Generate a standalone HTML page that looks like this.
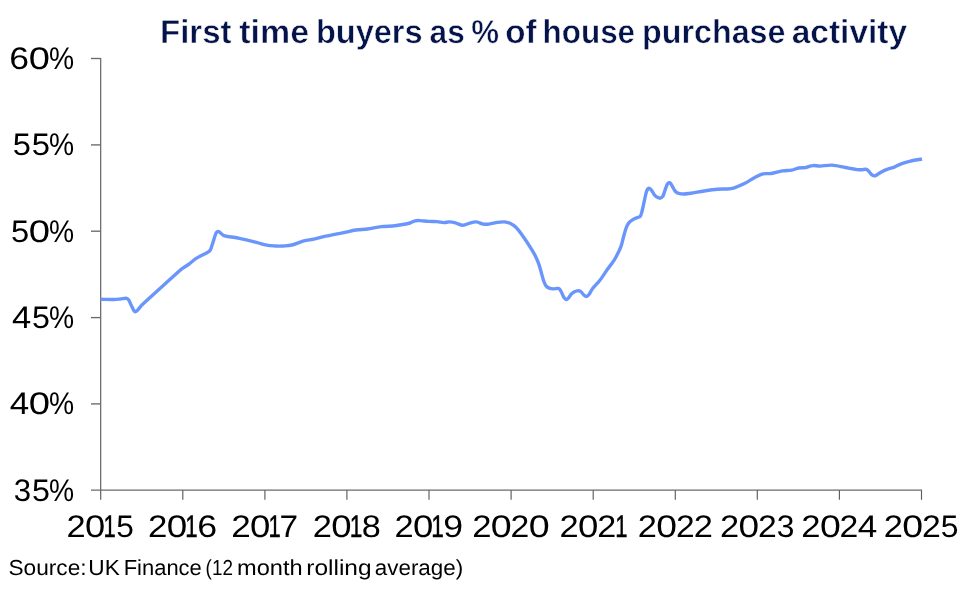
<!DOCTYPE html>
<html lang="en"><head><meta charset="utf-8"><title>First time buyers as % of house purchase activity</title>
<style>html,body{margin:0;padding:0;background:#fff}body{width:966px;height:589px;overflow:hidden}svg{display:block}text{font-family:"Liberation Sans",sans-serif;text-rendering:geometricPrecision}</style></head><body>
<svg width="966" height="589" viewBox="0 0 966 589">
<rect width="966" height="589" fill="#fff"/>
<g stroke="#5c5c5c" stroke-width="1.15" fill="none">
<path d="M100.7 57.9V499.8"/>
<path d="M182.8 490.1V499.8"/>
<path d="M264.9 490.1V499.8"/>
<path d="M346.9 490.1V499.8"/>
<path d="M429.0 490.1V499.8"/>
<path d="M511.1 490.1V499.8"/>
<path d="M593.2 490.1V499.8"/>
<path d="M675.3 490.1V499.8"/>
<path d="M757.3 490.1V499.8"/>
<path d="M839.4 490.1V499.8"/>
<path d="M921.5 490.1V499.8"/>
</g>
<g stroke="#6a6a6a" stroke-width="1.35" fill="none">
<path d="M91.0 490.1H922.1"/>
<path d="M91 58.5H100.7"/>
<path d="M91 144.9H100.7"/>
<path d="M91 231.2H100.7"/>
<path d="M91 317.6H100.7"/>
<path d="M91 403.9H100.7"/>
</g>
<path d="M100.4 299.3C102.6 299.3 110.2 299.6 113.5 299.5C116.8 299.4 118.1 299.2 120.2 299.0C122.3 298.8 124.7 298.2 126.1 298.3C127.5 298.4 127.8 298.7 128.6 299.8C129.4 300.9 130.2 303.1 131.1 304.9C132.0 306.7 133.2 309.7 134.0 310.8C134.8 311.9 135.0 311.8 135.7 311.6C136.3 311.5 137.0 310.9 137.9 309.9C138.8 308.9 139.9 307.0 141.2 305.7C142.4 304.4 141.9 305.0 145.4 301.8C148.9 298.6 156.6 291.5 162.2 286.4C167.8 281.3 175.5 274.4 179.0 271.3C182.5 268.2 181.5 269.1 183.2 267.9C184.9 266.7 187.0 265.5 189.1 264.0C191.2 262.5 193.6 260.2 195.8 258.7C198.1 257.2 200.5 256.1 202.6 255.0C204.7 253.9 207.1 252.8 208.4 251.9C209.7 251.0 209.9 250.8 210.6 249.4C211.3 248.0 211.9 245.6 212.6 243.5C213.3 241.4 214.1 238.6 214.7 236.8C215.3 235.0 215.8 233.5 216.3 232.6C216.9 231.7 217.3 231.4 218.0 231.4C218.7 231.4 219.3 231.9 220.2 232.6C221.1 233.3 222.3 234.8 223.6 235.5C224.9 236.2 225.4 236.1 227.8 236.5C230.2 236.9 234.8 237.4 237.9 238.0C241.0 238.6 243.1 239.0 246.3 239.8C249.5 240.6 253.9 241.7 257.3 242.6C260.7 243.5 263.8 244.5 266.8 245.1C269.8 245.7 272.4 245.8 275.2 246.0C278.0 246.2 280.8 246.2 283.6 246.0C286.4 245.8 288.6 245.8 292.0 245.0C295.4 244.2 300.2 241.9 303.8 240.9C307.4 239.9 310.3 239.9 313.9 239.1C317.5 238.3 320.9 237.2 325.6 236.2C330.4 235.2 337.3 233.9 342.4 232.9C347.4 231.9 351.7 230.7 355.9 230.0C360.1 229.3 363.4 229.6 367.6 229.0C371.8 228.4 376.9 227.1 381.1 226.6C385.3 226.1 389.3 226.3 392.9 226.0C396.5 225.7 400.0 225.0 402.9 224.5C405.8 224.0 408.0 223.6 410.0 223.0C412.0 222.4 413.4 221.2 415.1 220.8C416.8 220.4 417.9 220.5 420.1 220.6C422.3 220.7 425.7 221.2 428.5 221.4C431.3 221.6 434.4 221.4 436.9 221.6C439.4 221.8 441.6 222.5 443.7 222.6C445.8 222.7 447.6 221.8 449.5 221.9C451.4 222.0 453.1 222.3 455.4 222.9C457.6 223.5 460.6 225.3 463.0 225.3C465.4 225.3 467.5 223.7 469.7 223.1C471.9 222.5 474.1 221.7 476.4 221.9C478.6 222.1 481.1 223.7 483.2 224.1C485.3 224.5 486.6 224.4 489.0 224.1C491.4 223.8 494.9 222.8 497.4 222.4C499.9 222.0 502.1 221.8 504.2 221.9C506.3 222.1 508.1 222.4 510.0 223.3C511.9 224.2 513.8 225.2 515.9 227.3C518.0 229.4 520.2 232.4 522.6 235.7C525.0 239.0 528.0 243.6 530.2 247.1C532.4 250.6 534.2 253.6 535.6 256.5C537.0 259.4 537.9 261.6 538.9 264.3C539.9 267.1 540.6 270.1 541.4 273.0C542.2 275.9 543.1 279.4 543.9 281.5C544.7 283.6 545.1 284.7 546.0 285.8C546.9 286.9 548.0 287.6 549.3 288.1C550.5 288.6 552.0 288.8 553.5 288.9C555.0 288.9 557.2 288.0 558.5 288.4C559.8 288.8 560.2 290.0 561.1 291.5C562.0 293.0 563.1 296.1 563.9 297.4C564.7 298.7 565.3 299.4 566.1 299.5C566.9 299.6 567.8 298.8 568.6 297.9C569.4 297.0 570.1 295.3 571.1 294.3C572.1 293.3 573.3 292.4 574.5 291.8C575.7 291.2 577.4 290.7 578.4 290.6C579.4 290.6 579.8 290.8 580.7 291.5C581.6 292.2 582.8 294.0 583.7 294.8C584.6 295.6 585.4 296.5 586.3 296.5C587.1 296.5 587.7 296.2 588.8 294.8C589.9 293.4 591.2 290.5 593.0 288.1C594.8 285.7 597.3 283.6 599.7 280.5C602.1 277.4 604.9 273.0 607.3 269.6C609.7 266.2 612.0 263.5 614.0 260.4C616.0 257.3 617.7 253.8 619.0 251.1C620.3 248.4 620.8 247.0 621.6 244.4C622.4 241.8 623.1 238.3 623.9 235.5C624.7 232.7 625.5 229.6 626.3 227.5C627.1 225.4 627.6 224.2 628.8 222.8C630.0 221.4 632.1 220.2 633.4 219.3C634.7 218.5 635.7 218.2 636.8 217.7C637.9 217.2 639.4 217.2 640.2 216.3C641.0 215.4 641.2 214.4 641.8 212.2C642.4 210.0 643.2 206.1 643.9 202.9C644.6 199.7 645.5 195.2 646.1 192.9C646.7 190.6 647.2 189.8 647.7 189.0C648.2 188.2 648.8 188.1 649.4 188.3C650.0 188.5 650.8 189.2 651.6 190.3C652.5 191.4 653.5 193.8 654.5 195.0C655.5 196.2 656.8 197.1 657.8 197.6C658.8 198.1 659.4 198.4 660.3 198.2C661.1 198.0 662.1 197.5 662.9 196.2C663.7 194.9 664.3 192.2 665.0 190.3C665.7 188.4 666.5 185.8 667.1 184.5C667.7 183.2 668.1 183.0 668.7 182.8C669.3 182.7 670.1 182.8 670.8 183.6C671.5 184.3 672.1 186.0 672.9 187.3C673.7 188.6 674.5 190.5 675.5 191.5C676.5 192.5 677.4 193.0 678.8 193.4C680.2 193.8 681.9 194.0 683.9 194.0C685.9 194.0 687.2 193.7 690.6 193.2C694.0 192.7 699.5 191.7 704.0 191.0C708.5 190.3 713.6 189.5 717.5 189.2C721.4 188.9 724.8 189.2 727.6 189.0C730.4 188.8 731.5 188.7 734.3 187.8C737.1 186.9 741.0 185.3 744.4 183.6C747.8 181.9 751.4 179.3 754.5 177.7C757.6 176.1 760.1 174.6 762.9 173.9C765.7 173.2 768.1 174.0 771.3 173.5C774.5 173.0 778.9 171.5 782.3 170.9C785.7 170.3 789.1 170.7 791.8 170.2C794.5 169.7 796.2 168.4 798.5 168.0C800.8 167.6 802.9 168.0 805.3 167.6C807.7 167.2 810.3 165.8 812.8 165.6C815.3 165.3 817.2 166.2 820.4 166.1C823.6 166.0 827.9 164.9 832.1 165.1C836.3 165.3 841.1 166.7 845.6 167.5C850.1 168.3 855.6 169.4 859.0 169.7C862.4 170.0 864.2 169.1 865.8 169.3C867.3 169.5 867.3 169.9 868.3 170.8C869.3 171.7 870.6 173.8 871.6 174.7C872.6 175.5 873.4 175.8 874.2 175.9C875.1 176.0 875.6 175.6 876.7 175.0C877.8 174.4 879.1 173.2 880.9 172.2C882.7 171.2 885.4 170.0 887.6 169.2C889.8 168.3 892.0 168.0 894.3 167.1C896.5 166.2 898.6 164.8 901.1 163.8C903.6 162.8 906.0 162.1 909.5 161.3C913.0 160.5 919.9 159.4 922.0 159.0" fill="none" stroke="#6a96fc" stroke-width="3.4" stroke-linejoin="round" stroke-linecap="butt"/>
<text y="43" font-size="33" font-weight="bold" fill="#04134a" stroke="#fff" stroke-width="0.5"><tspan x="160.1" textLength="71.4" lengthAdjust="spacingAndGlyphs">First</tspan> <tspan x="239.3" textLength="69.7" lengthAdjust="spacingAndGlyphs">time</tspan> <tspan x="315.9" textLength="106.7" lengthAdjust="spacingAndGlyphs">buyers</tspan> <tspan x="429.6" textLength="35.1" lengthAdjust="spacingAndGlyphs">as</tspan> <tspan x="471.3" textLength="27.8" lengthAdjust="spacingAndGlyphs">%</tspan> <tspan x="505.2" textLength="31.3" lengthAdjust="spacingAndGlyphs">of</tspan> <tspan x="542.6" textLength="92.5" lengthAdjust="spacingAndGlyphs">house</tspan> <tspan x="642.1" textLength="143.4" lengthAdjust="spacingAndGlyphs">purchase</tspan> <tspan x="791.7" textLength="115.4" lengthAdjust="spacingAndGlyphs">activity</tspan></text>
<g font-size="31.2" fill="#000">
<text y="69.0"><tspan x="9.20" textLength="19.77" lengthAdjust="spacingAndGlyphs">6</tspan><tspan x="28.81" textLength="21.17" lengthAdjust="spacingAndGlyphs">0</tspan><tspan x="48.99" textLength="25.11" lengthAdjust="spacingAndGlyphs">%</tspan></text>
<text y="155.4"><tspan x="12.89" textLength="18.18" lengthAdjust="spacingAndGlyphs">5</tspan><tspan x="31.68" textLength="18.30" lengthAdjust="spacingAndGlyphs">5</tspan><tspan x="48.99" textLength="25.11" lengthAdjust="spacingAndGlyphs">%</tspan></text>
<text y="241.7"><tspan x="10.99" textLength="18.18" lengthAdjust="spacingAndGlyphs">5</tspan><tspan x="28.80" textLength="21.29" lengthAdjust="spacingAndGlyphs">0</tspan><tspan x="48.99" textLength="25.11" lengthAdjust="spacingAndGlyphs">%</tspan></text>
<text y="328.1"><tspan x="12.11" textLength="19.20" lengthAdjust="spacingAndGlyphs">4</tspan><tspan x="31.91" textLength="17.95" lengthAdjust="spacingAndGlyphs">5</tspan><tspan x="48.99" textLength="25.11" lengthAdjust="spacingAndGlyphs">%</tspan></text>
<text y="414.4"><tspan x="9.80" textLength="19.42" lengthAdjust="spacingAndGlyphs">4</tspan><tspan x="28.80" textLength="21.29" lengthAdjust="spacingAndGlyphs">0</tspan><tspan x="48.99" textLength="25.11" lengthAdjust="spacingAndGlyphs">%</tspan></text>
<text y="500.8"><tspan x="13.71" textLength="17.36" lengthAdjust="spacingAndGlyphs">3</tspan><tspan x="31.91" textLength="17.95" lengthAdjust="spacingAndGlyphs">5</tspan><tspan x="48.99" textLength="25.11" lengthAdjust="spacingAndGlyphs">%</tspan></text>
<text y="537.2"><tspan x="66.47" textLength="19.17" lengthAdjust="spacingAndGlyphs">2</tspan><tspan x="85.08" textLength="20.24" lengthAdjust="spacingAndGlyphs">0</tspan><tspan x="103.42" textLength="12.25" lengthAdjust="spacingAndGlyphs" stroke="#000" stroke-width=".5">1</tspan><tspan x="116.23" textLength="17.60" lengthAdjust="spacingAndGlyphs">5</tspan></text>
<text y="537.2"><tspan x="148.14" textLength="19.41" lengthAdjust="spacingAndGlyphs">2</tspan><tspan x="166.76" textLength="20.48" lengthAdjust="spacingAndGlyphs">0</tspan><tspan x="185.20" textLength="12.38" lengthAdjust="spacingAndGlyphs" stroke="#000" stroke-width=".5">1</tspan><tspan x="197.18" textLength="19.89" lengthAdjust="spacingAndGlyphs">6</tspan></text>
<text y="537.2"><tspan x="231.23" textLength="19.53" lengthAdjust="spacingAndGlyphs">2</tspan><tspan x="249.97" textLength="20.36" lengthAdjust="spacingAndGlyphs">0</tspan><tspan x="268.42" textLength="12.25" lengthAdjust="spacingAndGlyphs" stroke="#000" stroke-width=".5">1</tspan><tspan x="279.59" textLength="18.60" lengthAdjust="spacingAndGlyphs">7</tspan></text>
<text y="537.2"><tspan x="312.77" textLength="19.17" lengthAdjust="spacingAndGlyphs">2</tspan><tspan x="331.17" textLength="20.36" lengthAdjust="spacingAndGlyphs">0</tspan><tspan x="349.67" textLength="12.64" lengthAdjust="spacingAndGlyphs" stroke="#000" stroke-width=".5">1</tspan><tspan x="361.71" textLength="19.08" lengthAdjust="spacingAndGlyphs">8</tspan></text>
<text y="537.2"><tspan x="394.57" textLength="19.17" lengthAdjust="spacingAndGlyphs">2</tspan><tspan x="412.97" textLength="20.36" lengthAdjust="spacingAndGlyphs">0</tspan><tspan x="431.37" textLength="12.64" lengthAdjust="spacingAndGlyphs" stroke="#000" stroke-width=".5">1</tspan><tspan x="443.33" textLength="19.87" lengthAdjust="spacingAndGlyphs">9</tspan></text>
<text y="537.2"><tspan x="472.36" textLength="19.29" lengthAdjust="spacingAndGlyphs">2</tspan><tspan x="490.73" textLength="20.94" lengthAdjust="spacingAndGlyphs">0</tspan><tspan x="510.50" textLength="18.80" lengthAdjust="spacingAndGlyphs">2</tspan><tspan x="528.83" textLength="20.94" lengthAdjust="spacingAndGlyphs">0</tspan></text>
<text y="537.2"><tspan x="559.57" textLength="19.17" lengthAdjust="spacingAndGlyphs">2</tspan><tspan x="577.97" textLength="20.36" lengthAdjust="spacingAndGlyphs">0</tspan><tspan x="597.18" textLength="19.04" lengthAdjust="spacingAndGlyphs">2</tspan><tspan x="615.32" textLength="12.25" lengthAdjust="spacingAndGlyphs" stroke="#000" stroke-width=".5">1</tspan></text>
<text y="537.2"><tspan x="637.87" textLength="19.17" lengthAdjust="spacingAndGlyphs">2</tspan><tspan x="656.35" textLength="20.71" lengthAdjust="spacingAndGlyphs">0</tspan><tspan x="676.01" textLength="18.68" lengthAdjust="spacingAndGlyphs">2</tspan><tspan x="693.77" textLength="19.17" lengthAdjust="spacingAndGlyphs">2</tspan></text>
<text y="537.2"><tspan x="720.07" textLength="19.17" lengthAdjust="spacingAndGlyphs">2</tspan><tspan x="738.55" textLength="20.59" lengthAdjust="spacingAndGlyphs">0</tspan><tspan x="758.10" textLength="18.80" lengthAdjust="spacingAndGlyphs">2</tspan><tspan x="776.69" textLength="17.71" lengthAdjust="spacingAndGlyphs">3</tspan></text>
<text y="537.2"><tspan x="801.36" textLength="19.29" lengthAdjust="spacingAndGlyphs">2</tspan><tspan x="819.94" textLength="20.83" lengthAdjust="spacingAndGlyphs">0</tspan><tspan x="839.50" textLength="18.80" lengthAdjust="spacingAndGlyphs">2</tspan><tspan x="857.69" textLength="19.54" lengthAdjust="spacingAndGlyphs">4</tspan></text>
<text y="537.2"><tspan x="883.87" textLength="19.17" lengthAdjust="spacingAndGlyphs">2</tspan><tspan x="902.34" textLength="20.83" lengthAdjust="spacingAndGlyphs">0</tspan><tspan x="921.90" textLength="18.80" lengthAdjust="spacingAndGlyphs">2</tspan><tspan x="940.82" textLength="17.71" lengthAdjust="spacingAndGlyphs">5</tspan></text>
</g>
<text y="575.2" font-size="21.7" fill="#000"><tspan x="8.5" textLength="78.1" lengthAdjust="spacingAndGlyphs">Source:</tspan> <tspan x="88.3" textLength="31.5" lengthAdjust="spacingAndGlyphs">UK</tspan> <tspan x="123.7" textLength="78.1" lengthAdjust="spacingAndGlyphs">Finance</tspan> <tspan x="205.6" textLength="27.3" lengthAdjust="spacingAndGlyphs">(12</tspan> <tspan x="237.1" textLength="65.5" lengthAdjust="spacingAndGlyphs">month</tspan> <tspan x="306.3" textLength="65.3" lengthAdjust="spacingAndGlyphs">rolling</tspan> <tspan x="374.8" textLength="88.4" lengthAdjust="spacingAndGlyphs">average)</tspan></text>
</svg></body></html>
